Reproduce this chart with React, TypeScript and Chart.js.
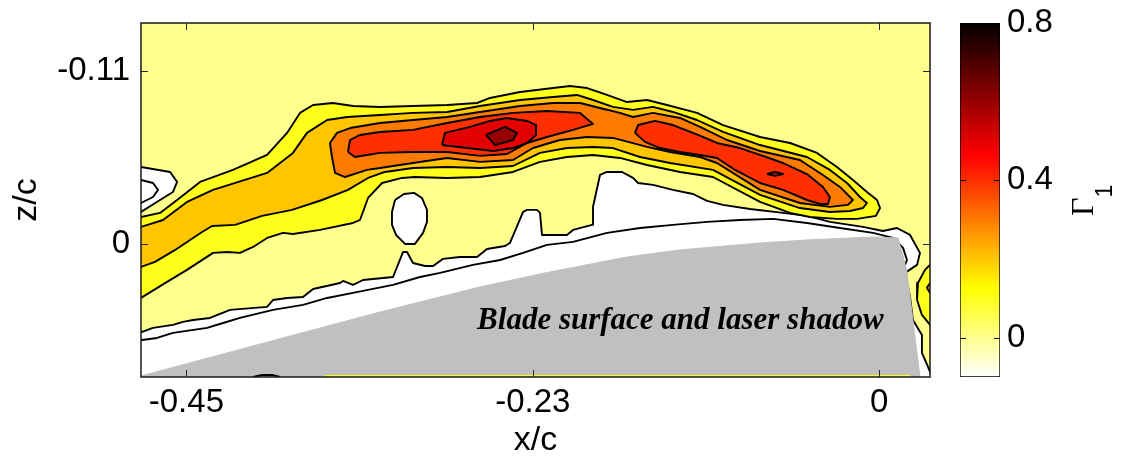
import React, { useEffect, useRef } from 'react';
import { Chart, registerables } from 'chart.js';

Chart.register(...registerables);

type Pt = [number, number];

// ---------- axes ----------
const xRange: Pt = [-0.4848, 0.0333];
const zRange: Pt = [-0.1405, 0.0843];
const xTickValues = [-0.455, -0.2275, 0];
const xTickLabels = ['-0.45', '-0.23', '0'];
const zTickValues = [-0.11, 0];
const zTickLabels = ['-0.11', '0'];

// ---------- colour bar ----------
const cbRange: Pt = [-0.1, 0.8];
const cbTickValues = [0, 0.4, 0.8];
const cbTickLabels = ['0', '0.4', '0.8'];
const colormapStops: [number, string][] = [[0, '#ffffff'], [0.25, '#ffff00'], [0.625, '#ff0000'], [1, '#000000']];
const backgroundLevel = 0;

// ---------- annotation ----------
const bladeLabel = 'Blade surface and laser shadow';
const bladeLabelPos: Pt = [-0.2641, 0.0538];

// ---------- contour polygons (x/c, z/c) ----------
const zeroMain: Pt[] = [
  [-0.4887, 0.0563], [-0.4841, 0.0557], [-0.4769, 0.0531], [-0.4638, 0.0512], [-0.4572, 0.0493], [-0.4506, 0.0481],
  [-0.4395, 0.0468], [-0.4263, 0.0417], [-0.402, 0.0398], [-0.3981, 0.0354], [-0.3889, 0.0341], [-0.3784, 0.0335],
  [-0.3718, 0.0284], [-0.3541, 0.0246], [-0.3521, 0.0233], [-0.3456, 0.0258], [-0.339, 0.0227], [-0.3193, 0.0208],
  [-0.3127, 0.0049], [-0.3101, 0.0049], [-0.3062, 0.0119], [-0.2983, 0.0138], [-0.293, 0.0138], [-0.2865, 0.0093],
  [-0.2753, 0.0081], [-0.2641, 0.0081], [-0.2576, 0.003], [-0.2458, 0.0011], [-0.2425, -0.0008], [-0.2339, -0.0205],
  [-0.2313, -0.0218], [-0.2248, -0.0218], [-0.2228, -0.0199], [-0.2215, -0.0059], [-0.2051, -0.0059], [-0.2011, -0.0091],
  [-0.1886, -0.0123], [-0.188, -0.0237], [-0.1834, -0.044], [-0.1788, -0.0459], [-0.1689, -0.0459], [-0.1617, -0.0421],
  [-0.1584, -0.0389], [-0.1486, -0.0377], [-0.1355, -0.0345], [-0.1223, -0.0319], [-0.1131, -0.0275], [-0.1026, -0.025],
  [-0.0849, -0.0224], [-0.0632, -0.0199], [-0.0475, -0.018], [-0.0324, -0.0142], [-0.0107, -0.011], [0.0024, -0.0084],
  [0.0116, -0.0103], [0.0202, -0.0059], [0.0267, 0.0055], [0.0248, 0.0131], [0.0169, 0.0182], [0.0202, 0.0335],
  [0.0221, 0.0481], [0.028, 0.0576], [0.028, 0.069], [0.032, 0.0779], [0.0346, 0.0843], [0.0366, 0.0862], [-0.4887, 0.0862],
];
const innerMain: Pt[] = [
  [-0.4887, 0.0614], [-0.4841, 0.0608], [-0.4743, 0.0595], [-0.4638, 0.0563], [-0.4414, 0.0531], [-0.4309, 0.05],
  [-0.4198, 0.0468], [-0.3981, 0.0417], [-0.3784, 0.0385], [-0.3626, 0.0341], [-0.3456, 0.0309], [-0.3193, 0.0258],
  [-0.3016, 0.0208], [-0.2884, 0.0182], [-0.2668, 0.0131], [-0.249, 0.01], [-0.2339, 0.0055], [-0.2182, 0.0004],
  [-0.2011, -0.0015], [-0.1788, -0.0072], [-0.1571, -0.0103], [-0.1355, -0.0123], [-0.1131, -0.0142], [-0.0915, -0.0154],
  [-0.0698, -0.0161], [-0.0475, -0.0135], [-0.0258, -0.0103], [-0.0041, -0.0072], [0.009, -0.004], [0.0156, 0.0023],
  [0.0182, 0.01], [0.0156, 0.0163], [0.0169, 0.029],
];
const zeroOval: Pt[] = [
  [-0.318, -0.0281], [-0.3121, -0.0319], [-0.3055, -0.0326], [-0.3003, -0.0294], [-0.297, -0.0218], [-0.297, -0.0142],
  [-0.2996, -0.0072], [-0.3049, -0.0002], [-0.3114, -0.0002], [-0.3173, -0.0059], [-0.32, -0.0123], [-0.32, -0.0205],
];
const zeroLeftOuter: Pt[] = [
  [-0.4887, -0.0503], [-0.4848, -0.0491], [-0.4657, -0.0459], [-0.4611, -0.0396], [-0.4638, -0.0332], [-0.4723, -0.0281],
  [-0.4848, -0.0205], [-0.4887, -0.0199],
];
const zeroLeftInner: Pt[] = [
  [-0.4887, -0.0408], [-0.4848, -0.0408], [-0.4769, -0.0389], [-0.4736, -0.0345], [-0.4769, -0.03], [-0.4848, -0.0262],
  [-0.4887, -0.0256],
];
const band01: Pt[] = [
  [-0.4887, -0.0161], [-0.4848, -0.0173], [-0.4723, -0.0199], [-0.4611, -0.0281], [-0.446, -0.0396], [-0.4244, -0.0472],
  [-0.402, -0.0567], [-0.3889, -0.0707], [-0.3804, -0.0834], [-0.3718, -0.0884], [-0.3587, -0.0897], [-0.3456, -0.0878],
  [-0.3278, -0.0872], [-0.3062, -0.0878], [-0.2838, -0.0884], [-0.2641, -0.0897], [-0.2556, -0.0929], [-0.2359, -0.0967],
  [-0.2142, -0.0992], [-0.2031, -0.1005], [-0.1919, -0.0992], [-0.1788, -0.0948], [-0.1657, -0.0903], [-0.1525, -0.0916],
  [-0.1394, -0.0884], [-0.1197, -0.0834], [-0.1026, -0.0757], [-0.0783, -0.0681], [-0.0586, -0.0643], [-0.0409, -0.058],
  [-0.0278, -0.0491], [-0.0173, -0.0408], [-0.0081, -0.0332], [-0.0015, -0.0281], [0.0005, -0.023], [-0.0022, -0.018],
  [-0.0146, -0.0161], [-0.0278, -0.0161], [-0.0455, -0.0173], [-0.0586, -0.0199], [-0.0783, -0.0269], [-0.1092, -0.0427],
  [-0.1309, -0.0459], [-0.1525, -0.0503], [-0.1703, -0.0548], [-0.188, -0.0567], [-0.2051, -0.0554], [-0.2228, -0.0523],
  [-0.2405, -0.0459], [-0.2622, -0.0427], [-0.2838, -0.0421], [-0.3049, -0.0427], [-0.3134, -0.0421], [-0.3265, -0.0389],
  [-0.3357, -0.0294], [-0.341, -0.0154], [-0.3456, -0.0135], [-0.3672, -0.0091], [-0.385, -0.0065], [-0.3915, -0.0072],
  [-0.402, -0.004], [-0.4112, 0.0017], [-0.4198, 0.0055], [-0.4283, 0.0049], [-0.4375, 0.0055], [-0.4546, 0.0163],
  [-0.4677, 0.0239], [-0.4848, 0.0341], [-0.4887, 0.0354],
];
const band02: Pt[] = [
  [-0.4887, -0.0097], [-0.4848, -0.011], [-0.4703, -0.0154], [-0.4546, -0.0269], [-0.4375, -0.0345], [-0.402, -0.0453],
  [-0.385, -0.058], [-0.3758, -0.0707], [-0.3626, -0.0789], [-0.3495, -0.0808], [-0.3278, -0.0821], [-0.3062, -0.0834],
  [-0.2838, -0.084], [-0.2622, -0.0878], [-0.2359, -0.0916], [-0.2142, -0.0935], [-0.1985, -0.0948], [-0.188, -0.0916],
  [-0.1749, -0.0872], [-0.1617, -0.0853], [-0.1486, -0.0872], [-0.1355, -0.084], [-0.1197, -0.0789], [-0.1026, -0.0713],
  [-0.0783, -0.063], [-0.0475, -0.0554], [-0.0324, -0.0472], [-0.0212, -0.0389], [-0.0127, -0.03], [-0.0081, -0.0262],
  [-0.0107, -0.023], [-0.0192, -0.0211], [-0.0324, -0.0205], [-0.0521, -0.023], [-0.0783, -0.0313], [-0.1092, -0.0472],
  [-0.1374, -0.0516], [-0.1571, -0.0554], [-0.1749, -0.0611], [-0.188, -0.0618], [-0.2051, -0.0611], [-0.2228, -0.058],
  [-0.2405, -0.0497], [-0.2622, -0.0484], [-0.2838, -0.0491], [-0.3062, -0.0484], [-0.3246, -0.0459], [-0.3357, -0.0421],
  [-0.3489, -0.0345], [-0.3659, -0.0281], [-0.3856, -0.0218], [-0.4053, -0.018], [-0.423, -0.0123], [-0.4381, -0.0116],
  [-0.4447, -0.0078], [-0.4624, 0.0036], [-0.4756, 0.0112], [-0.4848, 0.0144], [-0.4887, 0.0157],
];
const band03: Pt[] = [
  [-0.3594, -0.0554], [-0.3607, -0.0643], [-0.3561, -0.0707], [-0.3475, -0.0738], [-0.3278, -0.077], [-0.3062, -0.0789],
  [-0.2838, -0.0808], [-0.2622, -0.084], [-0.2359, -0.0878], [-0.2142, -0.0897], [-0.1965, -0.0897], [-0.1834, -0.0865],
  [-0.1703, -0.0834], [-0.1617, -0.0808], [-0.1486, -0.0834], [-0.1309, -0.0802], [-0.1177, -0.0745], [-0.1, -0.0662],
  [-0.0783, -0.0592], [-0.0521, -0.0535], [-0.037, -0.044], [-0.0258, -0.0364], [-0.0173, -0.0281], [-0.0206, -0.025],
  [-0.0324, -0.0237], [-0.0521, -0.0262], [-0.0783, -0.0345], [-0.1066, -0.0516], [-0.1177, -0.0554], [-0.1374, -0.0586],
  [-0.1525, -0.0618], [-0.1749, -0.0675], [-0.1919, -0.0681], [-0.2097, -0.0662], [-0.2274, -0.0611], [-0.2405, -0.0535],
  [-0.2622, -0.0523], [-0.2838, -0.0548], [-0.3062, -0.0516], [-0.3278, -0.0484], [-0.3364, -0.0472], [-0.3508, -0.0427],
  [-0.3574, -0.0453],
];
const band04Left: Pt[] = [
  [-0.3489, -0.0586], [-0.3475, -0.0662], [-0.341, -0.0694], [-0.3278, -0.0713], [-0.3062, -0.0726], [-0.2838, -0.077],
  [-0.2622, -0.0808], [-0.2405, -0.0834], [-0.2182, -0.0846], [-0.1965, -0.0834], [-0.188, -0.0764], [-0.2011, -0.0726],
  [-0.2182, -0.0681], [-0.2313, -0.0643], [-0.2445, -0.0573], [-0.2622, -0.0561], [-0.2838, -0.0586], [-0.3062, -0.0586],
  [-0.3278, -0.058], [-0.3443, -0.0554],
];
const band04Right: Pt[] = [
  [-0.1604, -0.0707], [-0.1584, -0.0757], [-0.1473, -0.0783], [-0.1355, -0.0757], [-0.119, -0.0694], [-0.1066, -0.0643],
  [-0.0915, -0.0611], [-0.0783, -0.0567], [-0.0632, -0.0516], [-0.0475, -0.0446], [-0.037, -0.0364], [-0.0324, -0.03],
  [-0.0337, -0.0256], [-0.0389, -0.0256], [-0.0475, -0.0281], [-0.0632, -0.0345], [-0.0783, -0.0389], [-0.0947, -0.0472],
  [-0.1066, -0.0548], [-0.1177, -0.0567], [-0.1309, -0.0586], [-0.144, -0.0611], [-0.1538, -0.065],
];
const band05Left: Pt[] = [
  [-0.2871, -0.063], [-0.2852, -0.0707], [-0.2687, -0.0745], [-0.2556, -0.0783], [-0.2445, -0.0802], [-0.2313, -0.0783],
  [-0.2254, -0.0757], [-0.2254, -0.0694], [-0.2313, -0.0643], [-0.2405, -0.0611], [-0.2536, -0.0592], [-0.2707, -0.0611],
];
const band05Right: Pt[] = [[-0.0737, -0.0446], [-0.0685, -0.0459], [-0.0632, -0.0446], [-0.0685, -0.0434]];
const band06: Pt[] = [[-0.2582, -0.0694], [-0.2458, -0.0745], [-0.2379, -0.0707], [-0.2405, -0.0662], [-0.2523, -0.063]];
const edge01: Pt[] = [
  [0.0366, 0.0112], [0.0333, 0.0131], [0.03, 0.0163], [0.0254, 0.0246], [0.0248, 0.0354], [0.028, 0.0449],
  [0.0333, 0.0512], [0.0366, 0.0525],
];
const edge02: Pt[] = [[0.0333, 0.0246], [0.0313, 0.0277], [0.0333, 0.0309], [0.0366, 0.0309], [0.0366, 0.0246]];
const bladeShadow: Pt[] = [
  [-0.4887, 0.0862], [-0.4887, 0.085], [-0.4848, 0.0836], [-0.3278, 0.043], [-0.2622, 0.0271], [-0.2195, 0.0182],
  [-0.1657, 0.0081], [-0.1309, 0.0036], [-0.0783, -0.0008], [-0.0475, -0.0027], [-0.0041, -0.0046], [0.0123, -0.004],
  [0.0149, 0.0049], [0.0182, 0.0176], [0.0267, 0.0843], [0.0274, 0.0862],
];
const bottomStrip: Pt[] = [[-0.364, 0.0836], [0.0202, 0.0836]];
const bottomArc: Pt[] = [[-0.4112, 0.0843], [-0.4053, 0.083], [-0.3988, 0.083], [-0.3935, 0.0843]];

const FONT_SANS = "'Liberation Sans', Arial, Helvetica, sans-serif";
const FONT_SERIF = "'Liberation Serif', 'Times New Roman', serif";
const bladeColor = '#c0c0c0';

// flipped "hot" colormap over the colour-bar range
function levelColor(v: number): string {
  const t = Math.min(1, Math.max(0, (v - cbRange[0]) / (cbRange[1] - cbRange[0])));
  const s = 1 - t;
  const r = Math.min(1, s / 0.375);
  const g = Math.min(1, Math.max(0, (s - 0.375) / 0.375));
  const b = Math.min(1, Math.max(0, (s - 0.75) / 0.25));
  return `rgb(${Math.round(r * 255)},${Math.round(g * 255)},${Math.round(b * 255)})`;
}

function buildDatasets() {
  const layers: { data: Pt[]; level: number | null; mode: string }[] = [
    { data: zeroMain, level: -0.1, mode: 'fill' },
    { data: innerMain, level: null, mode: 'line' },
    { data: zeroOval, level: -0.1, mode: 'fill' },
    { data: zeroLeftOuter, level: -0.1, mode: 'fill' },
    { data: zeroLeftInner, level: -0.1, mode: 'fill' },
    { data: band01, level: 0.1, mode: 'fill' },
    { data: band02, level: 0.2, mode: 'fill' },
    { data: band03, level: 0.3, mode: 'fill' },
    { data: band04Left, level: 0.4, mode: 'fill' },
    { data: band04Right, level: 0.4, mode: 'fill' },
    { data: band05Left, level: 0.5, mode: 'fill' },
    { data: band05Right, level: 0.5, mode: 'fill' },
    { data: band06, level: 0.6, mode: 'fill' },
    { data: edge01, level: 0.1, mode: 'fill' },
    { data: edge02, level: 0.2, mode: 'fill' },
    { data: bladeShadow, level: null, mode: 'blade' },
    { data: bottomStrip, level: 0.1, mode: 'strip' },
    { data: bottomArc, level: null, mode: 'line' },
  ];
  return layers.map((L, i) => {
    const closedShape = L.mode === 'fill' || L.mode === 'blade';
    const pts = closedShape ? [...L.data, L.data[0]] : L.data;
    return {
      data: pts.map(([x, y]) => ({ x, y })),
      order: layers.length - i,
      fill: closedShape ? 'shape' : false,
      backgroundColor: L.mode === 'blade' ? bladeColor : L.level != null ? levelColor(L.level) : 'rgba(0,0,0,0)',
      borderColor: L.mode === 'blade' ? bladeColor : L.mode === 'strip' ? levelColor(L.level as number) : '#000',
      borderWidth: L.mode === 'blade' ? 1 : L.mode === 'strip' ? 2 : 1.9,
      borderJoinStyle: 'round',
      pointRadius: 0,
      pointHoverRadius: 0,
      tension: 0,
    };
  });
}

const framePlugin = {
  id: 'frameDecor',
  beforeDraw(chart: any) {
    const { ctx, chartArea: a } = chart;
    ctx.save();
    ctx.fillStyle = levelColor(backgroundLevel);
    ctx.fillRect(a.left, a.top, a.right - a.left, a.bottom - a.top);
    ctx.restore();
  },
  afterDatasetsDraw(chart: any) {
    const { ctx, scales } = chart;
    ctx.save();
    ctx.font = `italic bold 31px ${FONT_SERIF}`;
    ctx.fillStyle = '#000';
    ctx.textAlign = 'left';
    ctx.textBaseline = 'alphabetic';
    ctx.fillText(bladeLabel, scales.x.getPixelForValue(bladeLabelPos[0]), scales.y.getPixelForValue(bladeLabelPos[1]));
    ctx.restore();
  },
  afterDraw(chart: any) {
    const { ctx, chartArea: a, scales } = chart;
    ctx.save();
    ctx.strokeStyle = '#262626';
    ctx.lineWidth = 1;
    ctx.beginPath();
    for (const v of xTickValues) {
      const p = Math.round(scales.x.getPixelForValue(v)) + 0.5;
      ctx.moveTo(p, a.bottom); ctx.lineTo(p, a.bottom - 7);
      ctx.moveTo(p, a.top); ctx.lineTo(p, a.top + 7);
    }
    for (const v of zTickValues) {
      const p = Math.round(scales.y.getPixelForValue(v)) + 0.5;
      ctx.moveTo(a.left, p); ctx.lineTo(a.left + 7, p);
      ctx.moveTo(a.right, p); ctx.lineTo(a.right - 7, p);
    }
    ctx.stroke();
    ctx.lineWidth = 1.5;
    ctx.strokeStyle = '#1a1a1a';
    ctx.strokeRect(a.left, a.top, a.right - a.left, a.bottom - a.top);
    ctx.restore();
  },
};

const cbPlugin = {
  id: 'cbDecor',
  afterDraw(chart: any) {
    const { ctx, chartArea: a, scales } = chart;
    ctx.save();
    ctx.strokeStyle = '#000';
    ctx.lineWidth = 1;
    ctx.beginPath();
    for (const v of cbTickValues) {
      const p = Math.round(scales.y.getPixelForValue(v)) + 0.5;
      ctx.moveTo(a.left, p); ctx.lineTo(a.left + 6, p);
      ctx.moveTo(a.right, p); ctx.lineTo(a.right - 6, p);
    }
    ctx.stroke();
    ctx.fillStyle = '#000';
    ctx.translate(a.right + 93, 216);
    ctx.rotate(-Math.PI / 2);
    ctx.textBaseline = 'alphabetic';
    ctx.textAlign = 'left';
    ctx.font = `32px ${FONT_SERIF}`;
    ctx.fillText('Γ', 0, 0);
    const w = ctx.measureText('Γ').width;
    ctx.font = `23px ${FONT_SANS}`;
    ctx.fillText('1', w, 19);
    ctx.restore();
  },
};

function noPad(s: any) {
  s.paddingTop = 0;
  s.paddingBottom = 0;
  s.paddingLeft = 0;
  s.paddingRight = 0;
}

export default function App() {
  const mainRef = useRef<HTMLCanvasElement>(null);
  const cbRef = useRef<HTMLCanvasElement>(null);

  useEffect(() => {
    const tickFont = { family: FONT_SANS, size: 33 };
    const main = new Chart(mainRef.current as HTMLCanvasElement, {
      type: 'line',
      data: { datasets: buildDatasets() as any },
      options: {
        responsive: false,
        animation: false,
        layout: { padding: { top: 23, left: 0, right: 20, bottom: 0 } },
        plugins: { legend: { display: false }, tooltip: { enabled: false } },
        scales: {
          x: {
            type: 'linear',
            min: xRange[0],
            max: xRange[1],
            grid: { display: false, drawTicks: false },
            border: { display: false },
            afterBuildTicks: (s: any) => { s.ticks = xTickValues.map((value) => ({ value })); },
            afterFit: (s: any) => { s.height = 80; noPad(s); },
            ticks: {
              callback: (_v: any, i: number) => xTickLabels[i],
              font: tickFont, color: '#000', padding: 6, maxRotation: 0, minRotation: 0, autoSkip: false,
            },
            title: { display: true, text: 'x/c', color: '#000', font: { family: FONT_SANS, size: 34, lineHeight: 1 }, padding: { top: 0, bottom: -1 } },
          },
          y: {
            type: 'linear',
            reverse: true,
            min: zRange[0],
            max: zRange[1],
            grid: { display: false, drawTicks: false },
            border: { display: false },
            afterBuildTicks: (s: any) => { s.ticks = zTickValues.map((value) => ({ value })); },
            afterFit: (s: any) => { s.width = 141; noPad(s); },
            ticks: { callback: (_v: any, i: number) => zTickLabels[i], font: tickFont, color: '#000', padding: 11, autoSkip: false },
            title: { display: true, text: 'z/c', color: '#000', font: { family: FONT_SANS, size: 34, lineHeight: 1 }, padding: { top: 10, bottom: 0 } },
          },
        },
      } as any,
      plugins: [framePlugin],
    });

    const cb = new Chart(cbRef.current as HTMLCanvasElement, {
      type: 'bar',
      data: {
        labels: [''],
        datasets: [{
          data: [cbRange] as any,
          backgroundColor: (c: any) => {
            const area = c.chart.chartArea;
            if (!area) return '#ffffff';
            const g = c.chart.ctx.createLinearGradient(0, area.bottom, 0, area.top);
            colormapStops.forEach(([o, col]) => g.addColorStop(o, col));
            return g;
          },
          borderColor: '#000',
          borderWidth: 1,
          borderSkipped: false,
          barPercentage: 1,
          categoryPercentage: 1,
        }],
      },
      options: {
        responsive: false,
        animation: false,
        layout: { padding: { top: 23, left: 10, right: 0, bottom: 80 } },
        plugins: { legend: { display: false }, tooltip: { enabled: false } },
        scales: {
          x: { display: false },
          y: {
            position: 'right',
            min: cbRange[0],
            max: cbRange[1],
            grid: { display: false, drawTicks: false },
            border: { display: false },
            afterBuildTicks: (s: any) => { s.ticks = cbTickValues.map((value) => ({ value })); },
            afterFit: (s: any) => { s.width = 123; noPad(s); },
            ticks: { callback: (_v: any, i: number) => cbTickLabels[i], font: tickFont, color: '#000', padding: 7, autoSkip: false },
          },
        },
      } as any,
      plugins: [cbPlugin],
    });

    return () => { main.destroy(); cb.destroy(); };
  }, []);

  return (
    <div style={{ position: 'absolute', left: 0, top: 0, width: 1123, height: 457, background: '#fff' }}>
      <canvas ref={mainRef} width={950} height={457} style={{ position: 'absolute', left: 0, top: 0 }} />
      <canvas ref={cbRef} width={173} height={457} style={{ position: 'absolute', left: 950, top: 0 }} />
    </div>
  );
}
